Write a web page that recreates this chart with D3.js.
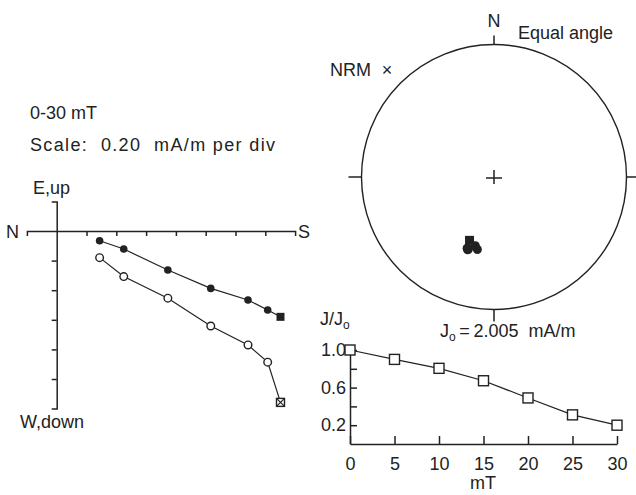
<!DOCTYPE html>
<html>
  <head>
    <script src="https://d3js.org/d3.v7.min.js"></script>
    <style>
      body { margin: 0; background: #fff; }
      text { font-family: "Liberation Sans", Arial, sans-serif; fill: #222; white-space: pre; }
      .lbl { font-size: 18px; }
      .tk text { font-size: 18px; }
      .ax path, .ax line { stroke: #222; stroke-width: 1.5; }
    </style>
  </head>
  <body>
    <svg width="636" height="495"></svg>
    <script>
      // demagnetization steps (mT)
      const steps = [0, 5, 10, 15, 20, 25, 30];
      // vector components, mA/m
      const north = [-1.502, -1.416, -1.284, -1.034, -0.746, -0.450, -0.288];
      const east  = [-0.580, -0.534, -0.466, -0.388, -0.264, -0.122, -0.066];
      const down  = [1.158, 0.886, 0.770, 0.642, 0.454, 0.308, 0.180];
      // normalized intensity
      const jRatio = [1.00, 0.90, 0.805, 0.673, 0.49, 0.31, 0.20];
      const jTicks = [0.2, 0.4, 0.6, 0.8, 1.0];
      const jLabels = [0.2, 0.6, 1.0];
      const stepTicks = [0, 5, 10, 15, 20, 25, 30];

      const svg = d3.select("svg");
      const ink = "#222";

      // ---------- Zijderveld diagram ----------
      const div = 0.2;
      const zx = d3.scaleLinear().domain([-0.2, 1.6]).range([26.9, 295.1]);
      const zy = d3.scaleLinear().domain([0.2, -1.2]).range([201.4, 408.6]);

      const zG = svg.append("g");
      zG.append("g").attr("class", "ax")
        .attr("transform", `translate(0,${zy(0)})`)
        .call(d3.axisBottom(zx).tickValues(d3.range(1, 8).map(k => k * div)).tickSize(5).tickFormat(""));
      zG.append("g").attr("class", "ax")
        .attr("transform", `translate(${zx(0)},0)`)
        .call(d3.axisLeft(zy).tickValues(d3.range(1, 6).map(k => -k * div)).tickSize(5).tickFormat(""));

      zG.append("text").attr("class", "lbl").attr("x", 6).attr("y", zy(0) + 7).text("N");
      zG.append("text").attr("class", "lbl").attr("x", 298).attr("y", zy(0) + 7).text("S");
      zG.append("text").attr("class", "lbl").attr("x", 33).attr("y", 194).text("E,up");
      zG.append("text").attr("class", "lbl").attr("x", 20).attr("y", 428).text("W,down");
      zG.append("text").attr("class", "lbl").attr("x", 30).attr("y", 119).text("0-30 mT");
      zG.append("text").attr("class", "lbl").attr("x", 30).attr("y", 151).attr("font-size", 19)
        .attr("textLength", 245).attr("lengthAdjust", "spacing").text("Scale:  0.20  mA/m per div");

      const pts = steps.map((s, i) => ({s, i, x: zx(-north[i]), yh: zy(east[i]), yv: zy(-down[i])}));
      const line = d3.line();
      zG.append("path").attr("d", line(pts.map(p => [p.x, p.yh]))).attr("fill", "none").attr("stroke", ink).attr("stroke-width", 1.2);
      zG.append("path").attr("d", line(pts.map(p => [p.x, p.yv]))).attr("fill", "none").attr("stroke", ink).attr("stroke-width", 1.2);

      const rest = pts.filter(p => p.i > 0);
      zG.selectAll(".fh").data(rest).enter().append("circle")
        .attr("cx", p => p.x).attr("cy", p => p.yh).attr("r", 3.8).attr("fill", ink);
      zG.selectAll(".ov").data(rest).enter().append("circle")
        .attr("cx", p => p.x).attr("cy", p => p.yv).attr("r", 3.8)
        .attr("fill", "#fff").attr("stroke", ink).attr("stroke-width", 1.4);
      const p0 = pts[0];
      zG.append("rect").attr("x", p0.x - 4).attr("y", p0.yh - 4).attr("width", 8).attr("height", 8).attr("fill", ink);
      zG.append("rect").attr("x", p0.x - 4).attr("y", p0.yv - 4).attr("width", 8).attr("height", 8)
        .attr("fill", "#fff").attr("stroke", ink).attr("stroke-width", 1.4);
      zG.append("path").attr("d", `M${p0.x - 4},${p0.yv - 4}L${p0.x + 4},${p0.yv + 4}M${p0.x + 4},${p0.yv - 4}L${p0.x - 4},${p0.yv + 4}`)
        .attr("stroke", ink).attr("stroke-width", 1.2);

      // ---------- Equal angle stereonet ----------
      const cx = 494, cy = 177, R = 132.5;
      const sG = svg.append("g");
      sG.append("circle").attr("cx", cx).attr("cy", cy).attr("r", R).attr("fill", "none").attr("stroke", ink).attr("stroke-width", 1.4);
      sG.append("path").attr("stroke", ink).attr("stroke-width", 1.5)
        .attr("d", `M${cx},${cy - R}v-9M${cx - R},${cy}h-13M${cx + R},${cy}h12M${cx},${cy + R}v12` +
          `M${cx - 8},${cy + 1}h16M${cx},${cy - 7}v14`);
      sG.append("text").attr("class", "lbl").attr("x", cx).attr("y", 27).attr("text-anchor", "middle").text("N");
      sG.append("text").attr("class", "lbl").attr("x", 518).attr("y", 39).attr("font-size", 19.5).text("Equal angle");
      sG.append("text").attr("class", "lbl").attr("x", 330).attr("y", 76).text("NRM");
      sG.append("text").attr("class", "lbl").attr("x", 387).attr("y", 76).attr("text-anchor", "middle").text("\u00d7");

      const rScale = d3.scaleLinear().domain([0, 1]).range([0, R]);
      const stereo = steps.map((s, i) => {
        const h = Math.hypot(north[i], east[i]);
        const inc = Math.atan2(Math.abs(down[i]), h);
        const dec = Math.atan2(east[i], north[i]);
        const r = rScale(Math.tan((Math.PI / 2 - inc) / 2));
        return {i, x: cx + r * Math.sin(dec), y: cy - r * Math.cos(dec)};
      });
      sG.append("rect").attr("x", stereo[0].x - 4.5).attr("y", stereo[0].y - 4.5).attr("width", 9).attr("height", 9).attr("fill", ink);
      sG.selectAll(".sp").data(stereo.slice(1)).enter().append("circle")
        .attr("cx", d => d.x).attr("cy", d => d.y).attr("r", 4.5).attr("fill", ink);

      // ---------- J/Jo decay ----------
      const jx = d3.scaleLinear().domain([0, 30]).range([350, 617]);
      const jy = d3.scaleLinear().domain([0, 1]).range([444, 350]);
      const jG = svg.append("g");
      jG.append("g").attr("class", "ax tk")
        .attr("transform", "translate(0,444)")
        .call(d3.axisBottom(jx).tickValues(stepTicks).tickSizeInner(-8).tickSizeOuter(0).tickPadding(13));
      jG.append("g").attr("class", "ax tk")
        .attr("transform", "translate(350,0)")
        .call(d3.axisLeft(jy).tickValues(jTicks).tickSizeInner(-7).tickSizeOuter(0).tickPadding(4)
          .tickFormat(d => jLabels.some(v => Math.abs(v - d) < 1e-9) ? d3.format(".1f")(d) : ""));
      jG.selectAll(".tk text").attr("fill", ink);

      jG.append("path").attr("d", d3.line().x((d, i) => jx(steps[i])).y(d => jy(d))(jRatio))
        .attr("fill", "none").attr("stroke", ink).attr("stroke-width", 1.2);
      jG.selectAll(".sq").data(jRatio).enter().append("rect")
        .attr("x", (d, i) => jx(steps[i]) - 5).attr("y", d => jy(d) - 5)
        .attr("width", 10).attr("height", 10).attr("fill", "#fff").attr("stroke", ink).attr("stroke-width", 1.4);

      const jl = jG.append("text").attr("class", "lbl").attr("x", 320).attr("y", 325);
      jl.append("tspan").text("J/J");
      jl.append("tspan").attr("dy", 4).attr("font-size", 12).text("o");
      const j0 = jG.append("text").attr("class", "lbl").attr("x", 440).attr("y", 337).attr("font-size", 19);
      j0.append("tspan").text("J");
      j0.append("tspan").attr("dy", 4).attr("font-size", 12).text("o");
      j0.append("tspan").attr("dy", -4).text("\u2009=\u20092.005  mA/m");
      jG.append("text").attr("class", "lbl").attr("x", 483).attr("y", 489).attr("text-anchor", "middle").text("mT");
    </script>
  </body>
</html>
